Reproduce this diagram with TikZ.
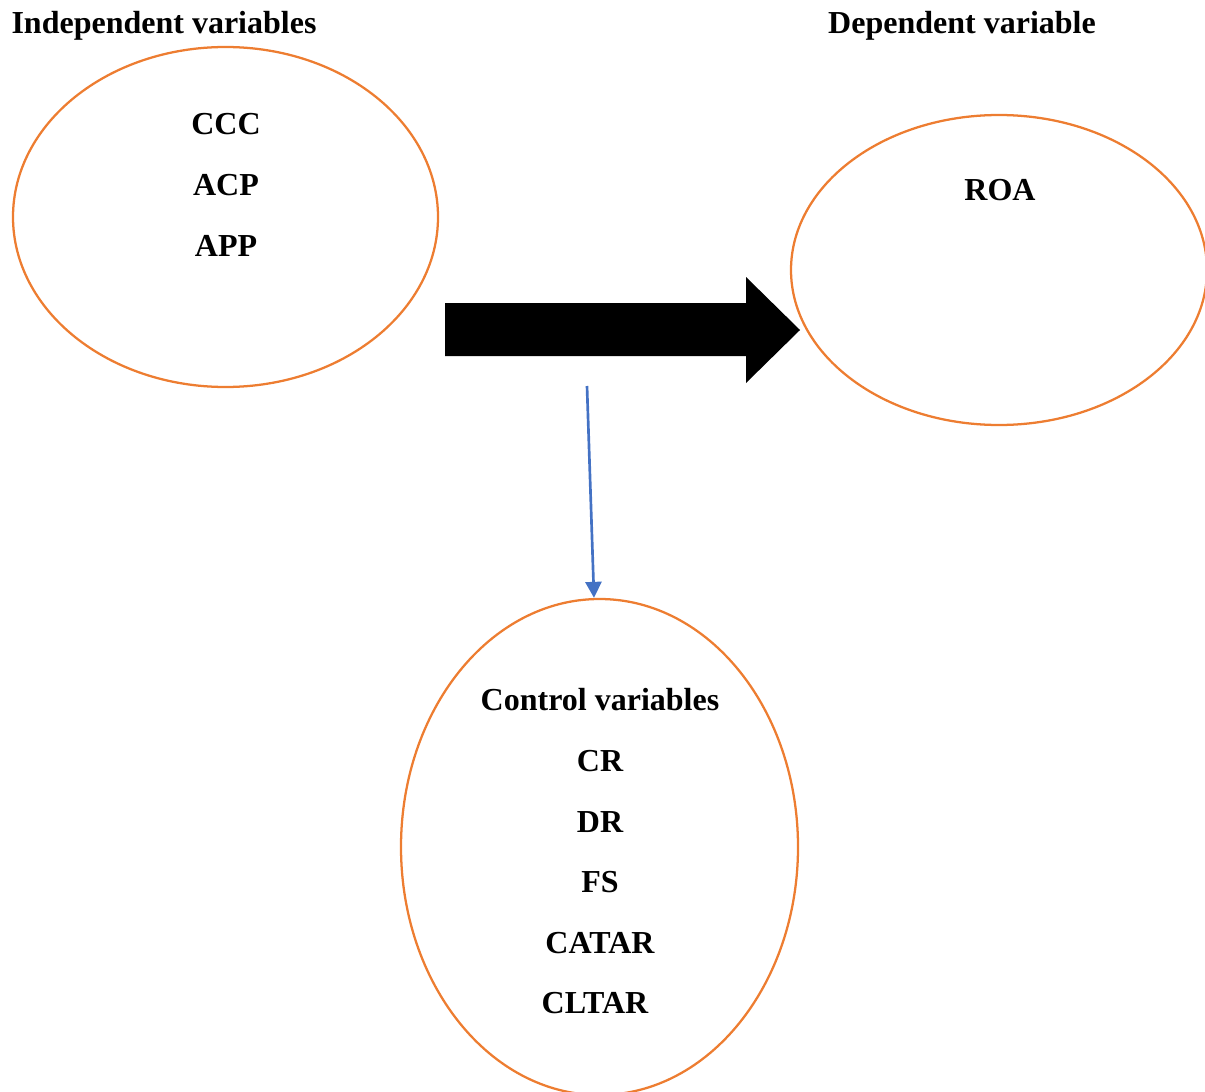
\documentclass[tikz,border=0pt]{standalone}
\usepackage{fontspec}
\setmainfont{Liberation Serif}
\usetikzlibrary{shapes.geometric,arrows.meta,calc}
\definecolor{borange}{HTML}{ED7D31}
\definecolor{bblue}{HTML}{4472C4}
\begin{document}
\begin{tikzpicture}[x=0.75pt,y=-0.75pt,
  oval/.style={ellipse,draw=borange,line width=1.7pt,inner sep=0pt},
  lbl/.style={font=\fontsize{24}{28}\selectfont\bfseries,anchor=base,inner sep=0pt},
  thin arrow/.style={draw=bblue,line width=2pt,-{Triangle[length=12pt,width=12pt]}}]
\useasboundingbox (0,0) rectangle (1205,1091);
\begin{scope}
\clip (0,0) rectangle (1205,1091);
\node[oval,minimum width=318.75pt,minimum height=255pt] (indep) at (225.5,217) {};
\node[oval,minimum width=312pt,minimum height=232.5pt] (dep) at (999,270) {};
\node[oval,minimum width=297.75pt,minimum height=372pt] (ctrl) at (599.5,847) {};
\end{scope}
\node[lbl] (tindep) at (164,34) {Independent variables};
\node[lbl] (tdep) at (962,34) {Dependent variable};
\node[lbl] (ccc) at (226,135) {CCC};
\node[lbl] (acp) at (226,196) {ACP};
\node[lbl] (app) at (226,257) {APP};
\node[lbl] (roa) at (1000,201) {ROA};
\node[lbl] (tctrl) at (600,710) {Control variables};
\node[lbl] (cr) at (600,771) {CR};
\node[lbl] (dr) at (600,832) {DR};
\node[lbl] (fs) at (600,892) {FS};
\node[lbl] (catar) at (600,953) {CATAR};
\node[lbl] (cltar) at (595,1013) {CLTAR};
% big block arrow
\fill[black] (445,303) -- (746,303) -- (746,277) -- (800,330) -- (746,383) -- (746,356) -- (445,356) -- cycle;
% thin blue arrow
\coordinate (src) at (587,386);
\draw[thin arrow] (src) -- ($(ctrl.north)+(-5.5,0)$);
\end{tikzpicture}
\end{document}
